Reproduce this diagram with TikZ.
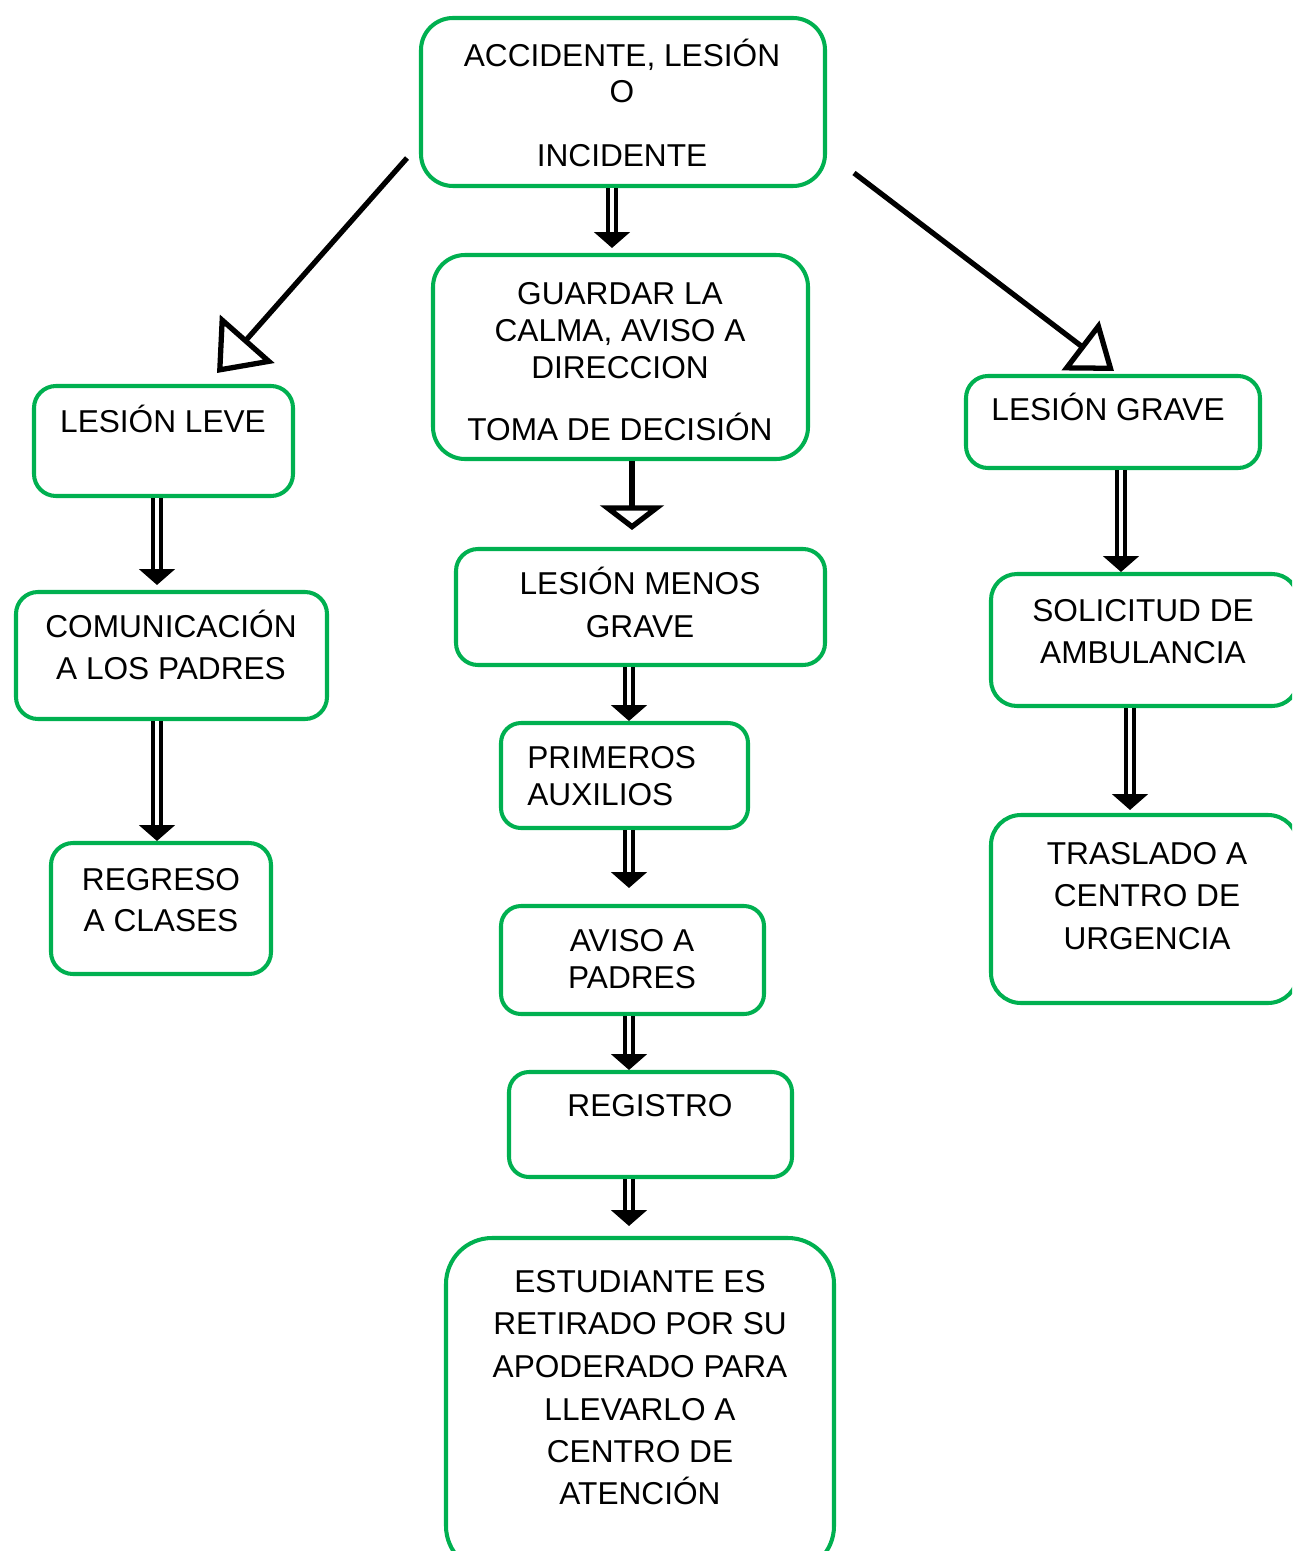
\documentclass[tikz,border=0pt]{standalone}
\usepackage{fontspec}
\setmainfont{Liberation Sans}
\usetikzlibrary{arrows.meta}
\definecolor{boxgreen}{HTML}{00B050}
\def\pxu{0.02cm}
\newcommand\mkbox[6]{\node[box, rounded corners={#6*\pxu}, minimum width={(#4-#2)*\pxu}, minimum height={(#5-#3)*\pxu}] (#1) at ({(#2+#4)/2},{(#3+#5)/2}) {};}
\newcommand\tl[4]{\node[txt] (#1) at (#2,#3) {#4};}
\newcommand\tw[4]{\node[txt, anchor=west] (#1) at (#2,#3) {#4};}
\begin{document}
\begin{tikzpicture}[x=0.02cm,y=-0.02cm,
  box/.style={draw=boxgreen, line width=2.3pt, inner sep=0pt},
  txt/.style={font=\fontsize{18}{22}\selectfont, inner sep=0pt, text height=12.9pt, text depth=0pt, anchor=center},
  dbl/.style={line width=2.5pt, double=white, double distance=2.3pt, -{Triangle[length=9pt, width=20pt]}},
]
\useasboundingbox (0,0) rectangle (1292,1551);
\clip (0,0) rectangle (1292,1551);
\fill[white] (0,0) rectangle (1292,1551);

% boxes
\mkbox{top}{421}{18}{825}{186}{32}
\mkbox{guard}{433}{255}{808}{459}{32}
\mkbox{leve}{34}{386}{293}{496}{22}
\mkbox{grave}{966}{376}{1260}{468}{22}
\mkbox{menos}{456}{549}{825}{665}{22}
\mkbox{comun}{16}{592}{327}{719}{22}
\mkbox{solic}{991}{574}{1298}{706}{26}
\mkbox{prim}{501}{723}{748}{828}{20}
\mkbox{regreso}{51}{843}{271}{974}{22}
\mkbox{trasl}{991}{815}{1298}{1003}{30}
\mkbox{aviso}{501}{906}{764}{1014}{20}
\mkbox{regis}{509}{1072}{792}{1177}{20}
\mkbox{estud}{446}{1238}{834}{1572}{46}

% texts
\tl{t1}{622}{55}{ACCIDENTE, LESIÓN}
\tl{t2}{622}{91}{O}
\tl{t3}{622}{155}{INCIDENTE}
\tl{g1}{620}{293}{GUARDAR LA}
\tl{g2}{620}{330}{CALMA, AVISO A}
\tl{g3}{620}{367}{DIRECCION}
\tl{g4}{620}{429}{TOMA DE DECISIÓN}
\tl{l1}{163}{421}{LESIÓN LEVE}
\tl{r1}{1108}{409}{LESIÓN GRAVE}
\tl{m1}{640}{583}{LESIÓN MENOS}
\tl{m2}{640}{626}{GRAVE}
\tl{c1}{171}{626}{COMUNICACIÓN}
\tl{c2}{171}{668}{A LOS PADRES}
\tl{s1}{1143}{610}{SOLICITUD DE}
\tl{s2}{1143}{652}{AMBULANCIA}
\tw{p1}{527}{757}{PRIMEROS}
\tw{p2}{527}{794}{AUXILIOS}
\tl{re1}{161}{879}{REGRESO}
\tl{re2}{161}{920}{A CLASES}
\tl{tr1}{1147}{853}{TRASLADO A}
\tl{tr2}{1147}{895}{CENTRO DE}
\tl{tr3}{1147}{938}{URGENCIA}
\tl{a1}{632}{940}{AVISO A}
\tl{a2}{632}{977}{PADRES}
\tl{rg1}{650}{1105}{REGISTRO}
\tl{e1}{640}{1281}{ESTUDIANTE ES}
\tl{e2}{640}{1323}{RETIRADO POR SU}
\tl{e3}{640}{1366}{APODERADO PARA}
\tl{e4}{640}{1409}{LLEVARLO A}
\tl{e5}{640}{1451}{CENTRO DE}
\tl{e6}{640}{1493}{ATENCIÓN}

% open-triangle connectors
\coordinate (la) at (407,158);
\coordinate (lb) at (217,373);
\coordinate (ra) at (854,173);
\coordinate (rb) at (1114,371);
\coordinate (cb) at (632,530);
\draw[line width=3pt, -{Triangle[open, length=26pt, width=41pt]}] (la) -- (lb);
\draw[line width=3pt, -{Triangle[open, length=24pt, width=35pt]}] (ra) -- (rb);
\draw[line width=3pt, -{Triangle[open, length=14pt, width=36pt]}] (guard.south -| cb) -- (cb);

% double arrows
\draw[dbl, shorten >=5*\pxu] (top.south -| 612,0) -- (guard.north -| 612,0);
\draw[dbl, shorten >=5*\pxu] (leve.south -| 157,0) -- (comun.north -| 157,0);
\draw[dbl] (comun.south -| 157,0) -- (regreso.north -| 157,0);
\draw[dbl] (grave.south -| 1121,0) -- (solic.north -| 1121,0);
\draw[dbl, shorten >=3*\pxu] (solic.south -| 1130,0) -- (trasl.north -| 1130,0);
\draw[dbl] (menos.south -| 629,0) -- (prim.north -| 629,0);
\draw[dbl, shorten >=16*\pxu] (prim.south -| 629,0) -- (aviso.north -| 629,0);
\draw[dbl] (aviso.south -| 629,0) -- (regis.north -| 629,0);
\draw[dbl, shorten >=10*\pxu] (regis.south -| 629,0) -- (estud.north -| 629,0);
\end{tikzpicture}
\end{document}
